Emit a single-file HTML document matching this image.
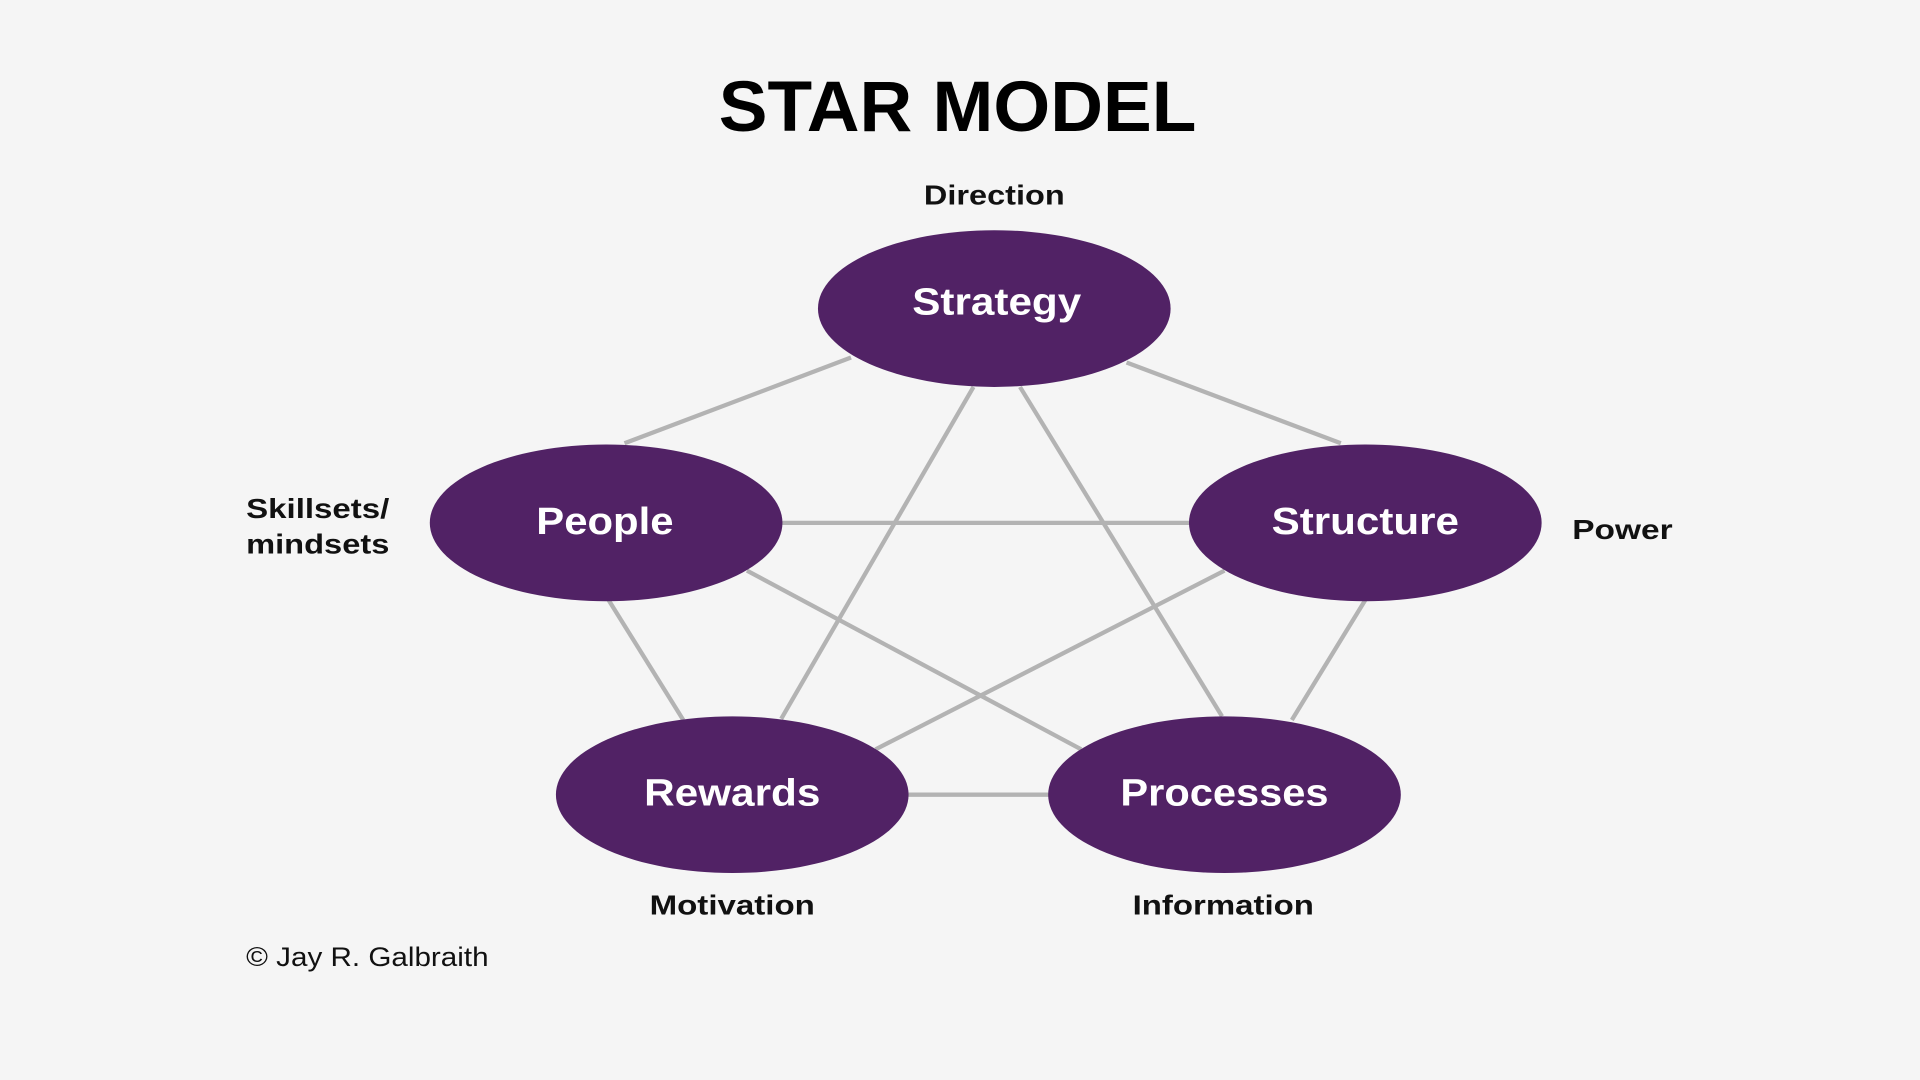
<!DOCTYPE html>
<html><head><style>
html,body{margin:0;padding:0;background:#f5f5f5;}
svg{display:block;}
</style></head><body>
<svg width="1920" height="1080" viewBox="0 0 1568 882" preserveAspectRatio="none" xmlns="http://www.w3.org/2000/svg">
<rect width="1568" height="882" fill="#f5f5f5"/>
<g stroke="#b3b3b3" stroke-width="3.5" fill="none">
<line x1="695" y1="292" x2="510" y2="362"/>
<line x1="920" y1="296" x2="1095" y2="362"/>
<line x1="795" y1="316" x2="638" y2="587"/>
<line x1="833" y1="316" x2="998" y2="585"/>
<line x1="630" y1="427" x2="980" y2="427"/>
<line x1="497" y1="490" x2="558" y2="588"/>
<line x1="610" y1="466" x2="883" y2="612"/>
<line x1="1000" y1="466" x2="715" y2="612"/>
<line x1="1115" y1="490" x2="1055" y2="588"/>
<line x1="735" y1="649" x2="865" y2="649"/>
</g>
<g fill="#512265">
<ellipse cx="812" cy="252" rx="144" ry="64"/>
<ellipse cx="495" cy="427" rx="144" ry="64"/>
<ellipse cx="1115" cy="427" rx="144" ry="64"/>
<ellipse cx="598" cy="649" rx="144" ry="64"/>
<ellipse cx="1000" cy="649" rx="144" ry="64"/>
</g>
<g font-family="Liberation Sans, sans-serif" font-weight="bold" fill="#fff" font-size="31" text-anchor="middle">
<text x="814" y="257" textLength="138" lengthAdjust="spacingAndGlyphs">Strategy</text>
<text x="494" y="436" textLength="112" lengthAdjust="spacingAndGlyphs">People</text>
<text x="1115" y="436" textLength="153" lengthAdjust="spacingAndGlyphs">Structure</text>
<text x="598" y="658" textLength="144" lengthAdjust="spacingAndGlyphs">Rewards</text>
<text x="1000" y="658" textLength="170" lengthAdjust="spacingAndGlyphs">Processes</text>
</g>
<text x="782" y="107" text-anchor="middle" font-family="Liberation Sans, sans-serif" font-weight="bold" font-size="58" fill="#000" textLength="390" lengthAdjust="spacingAndGlyphs">STAR MODEL</text>
<g font-family="Liberation Sans, sans-serif" font-weight="bold" fill="#111" font-size="23">
<text x="812" y="167" text-anchor="middle" textLength="115" lengthAdjust="spacingAndGlyphs">Direction</text>
<text x="201" y="423" textLength="117" lengthAdjust="spacingAndGlyphs">Skillsets/</text>
<text x="201" y="452" textLength="117" lengthAdjust="spacingAndGlyphs">mindsets</text>
<text x="1284" y="440" textLength="82" lengthAdjust="spacingAndGlyphs">Power</text>
<text x="598" y="747" text-anchor="middle" textLength="135" lengthAdjust="spacingAndGlyphs">Motivation</text>
<text x="999" y="747" text-anchor="middle" textLength="148" lengthAdjust="spacingAndGlyphs">Information</text>
</g>
<text x="201" y="789" font-family="Liberation Sans, sans-serif" font-size="22" fill="#111" textLength="198" lengthAdjust="spacingAndGlyphs">© Jay R. Galbraith</text>
</svg>
</body></html>
